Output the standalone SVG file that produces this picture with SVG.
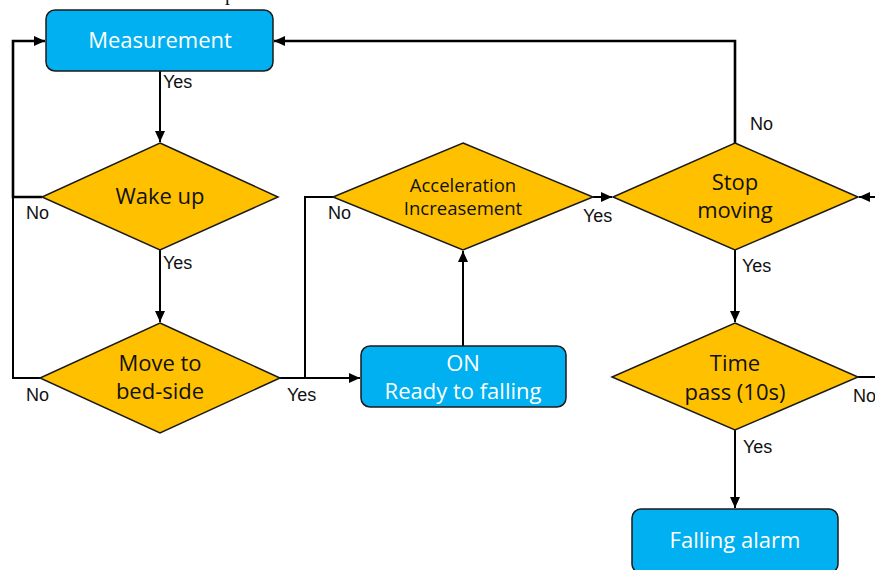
<svg xmlns="http://www.w3.org/2000/svg" width="875" height="570" viewBox="0 0 875 570">
<style>
.box{fill:#00B0F0;stroke:#1a1a1a;stroke-width:1.5}
.dia{fill:#FFC000;stroke:#1a1a1a;stroke-width:1.5}
.wt{fill:#ffffff;font-family:"Open Sans",sans-serif;font-size:22px;text-anchor:middle}
.bt{fill:#111111;font-family:"Open Sans",sans-serif;font-size:22px;text-anchor:middle}
.st{font-size:18.5px}
.lbl{fill:#111111;font-family:"Liberation Sans",Arial,sans-serif;font-size:18px}
.ln{fill:none;stroke:#000;stroke-width:2}
.tk{stroke-width:2.6}
</style>
<defs>
<marker id="ah" markerUnits="userSpaceOnUse" markerWidth="12" markerHeight="10" refX="11" refY="5" orient="auto">
<path d="M0,0 L11,5 L0,10 Z" fill="#000"/>
</marker>
</defs>
<rect width="875" height="570" fill="#ffffff"/>
<text x="225" y="-0.5" font-family="Liberation Serif,serif" font-size="20" fill="#111">p</text>
<g id="connectors">
<path class="ln" d="M160,71 V142" marker-end="url(#ah)"/>
<path class="ln" d="M160,250 V322" marker-end="url(#ah)"/>
<path class="ln tk" d="M42,197 H13 V41 H45" marker-end="url(#ah)"/>
<path class="ln" d="M40,378 H13 V197"/>
<path class="ln" d="M280,378 H360" marker-end="url(#ah)"/>
<path class="ln" d="M305,378 V197 H333"/>
<path class="ln" d="M463,346 V251" marker-end="url(#ah)"/>
<path class="ln" d="M593,197 H612" marker-end="url(#ah)"/>
<path class="ln" d="M875,197 H859" marker-end="url(#ah)"/>
<path class="ln tk" d="M735,143 V41 H274" marker-end="url(#ah)"/>
<path class="ln" d="M735,250 V322" marker-end="url(#ah)"/>
<path class="ln" d="M858,377 H875"/>
<path class="ln" d="M735,430 V508" marker-end="url(#ah)"/>
<text class="lbl" x="163" y="88">Yes</text>
<text class="lbl" x="26" y="219">No</text>
<text class="lbl" x="163" y="269">Yes</text>
<text class="lbl" x="26" y="401">No</text>
<text class="lbl" x="287" y="401">Yes</text>
<text class="lbl" x="328" y="219">No</text>
<text class="lbl" x="583" y="222">Yes</text>
<text class="lbl" x="750" y="130">No</text>
<text class="lbl" x="742" y="272">Yes</text>
<text class="lbl" x="853" y="402">No</text>
<text class="lbl" x="743" y="453">Yes</text>
</g>
<g id="measurement">
<rect class="box" x="46" y="10" width="227" height="61" rx="9"/>
<text class="wt" x="160" y="48">Measurement</text>
</g>
<g id="wakeup">
<polygon class="dia" points="160,143 278,197 160,250 42,197"/>
<text class="bt" x="160" y="204">Wake up</text>
</g>
<g id="bedside">
<polygon class="dia" points="160,323 280,378 160,433 40,378"/>
<text class="bt" x="160" y="371">Move to</text>
<text class="bt" x="160" y="399">bed-side</text>
</g>
<g id="acceleration">
<polygon class="dia" points="463,143 593,197 463,250 333,197"/>
<text class="bt st" x="463" y="192">Acceleration</text>
<text class="bt st" x="463" y="215">Increasement</text>
</g>
<g id="on">
<rect class="box" x="361" y="346" width="205" height="61" rx="9"/>
<text class="wt" x="463" y="371">ON</text>
<text class="wt" x="463" y="399">Ready to falling</text>
</g>
<g id="stopmoving">
<polygon class="dia" points="735,143 858,197 735,250 613,197"/>
<text class="bt" x="735" y="190">Stop</text>
<text class="bt" x="735" y="218">moving</text>
</g>
<g id="timepass">
<polygon class="dia" points="735,323 858,377 735,430 612,377"/>
<text class="bt" x="735" y="371">Time</text>
<text class="bt" x="735" y="400">pass (10s)</text>
</g>
<g id="fallingalarm">
<rect class="box" x="632" y="509" width="206" height="64" rx="9"/>
<text class="wt" x="735" y="548">Falling alarm</text>
</g>
</svg>
